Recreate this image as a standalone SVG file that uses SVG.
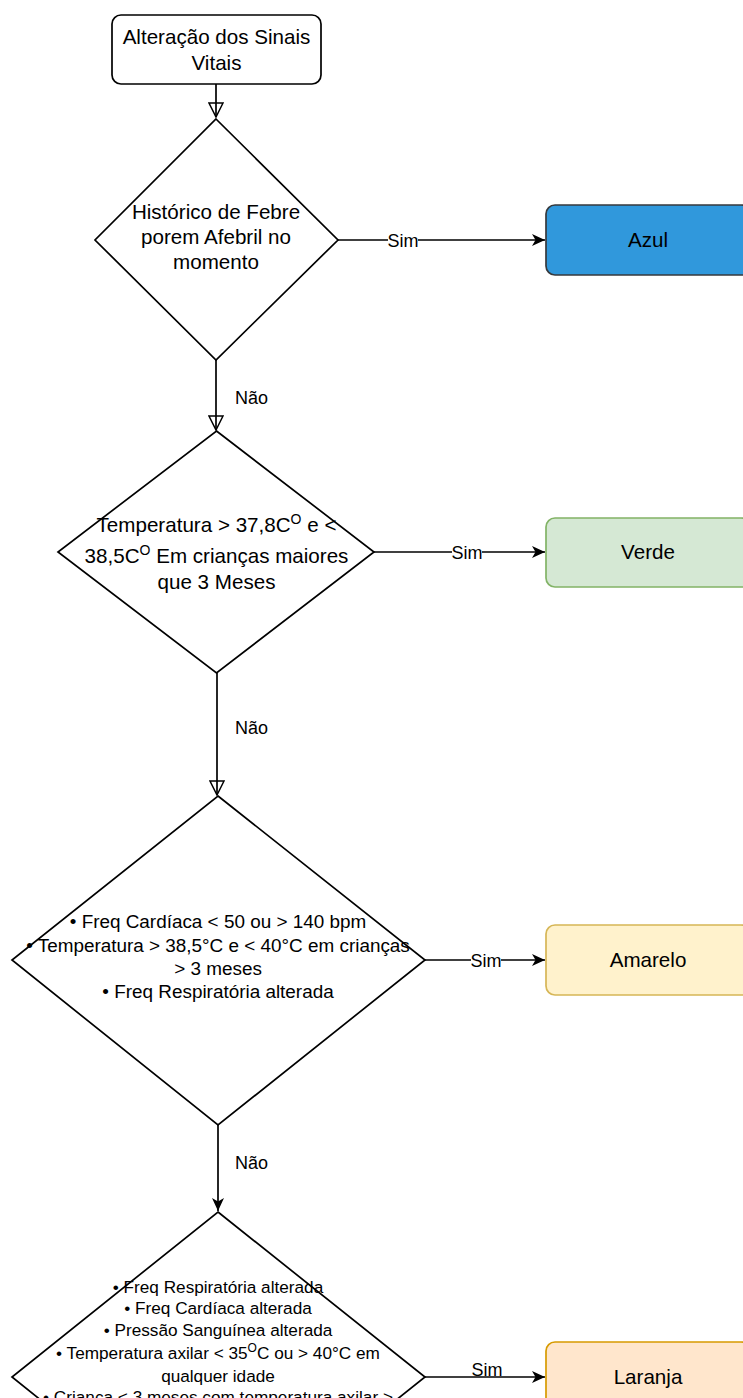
<svg xmlns="http://www.w3.org/2000/svg" width="743" height="1398" viewBox="0 0 743 1398">
  <defs>
    <style>
      .shape { fill: #ffffff; stroke: #000000; stroke-width: 1.7; }
      .t { font-family: "Liberation Sans", Arial, Helvetica, sans-serif; fill: #000000; text-anchor: middle; }
      .big { font-size: 20.6px; }
      .mid { font-size: 18.9px; }
      .small { font-size: 17.2px; }
      .lbl { font-family: "Liberation Sans", Arial, Helvetica, sans-serif; font-size: 18px; fill: #000000; }
      .edge { fill: none; stroke: #000000; stroke-width: 1.7; }
    </style>
    <marker id="open" viewBox="0 0 16 16" refX="15" refY="8" markerWidth="16" markerHeight="16" markerUnits="userSpaceOnUse" orient="auto">
      <path d="M1,1 L15,8 L1,15 Z" fill="none" stroke="#000" stroke-width="1.5"/>
    </marker>
    <marker id="solid" viewBox="0 0 14 12" refX="13" refY="6" markerWidth="14" markerHeight="12" markerUnits="userSpaceOnUse" orient="auto">
      <path d="M0,0 L13,6 L0,12 L3.5,6 Z" fill="#000"/>
    </marker>
  </defs>

  <rect width="743" height="1398" fill="#ffffff"/>

  <!-- connectors -->
  <g id="connectors">
    <path class="edge" d="M216,84 L216,117" marker-end="url(#open)"/>
    <path class="edge" d="M338,240 L545,240" marker-end="url(#solid)"/>
    <path class="edge" d="M216,360 L216,430" marker-end="url(#open)"/>
    <path class="edge" d="M374,552 L545,552" marker-end="url(#solid)"/>
    <path class="edge" d="M217,673 L217,795" marker-end="url(#open)"/>
    <path class="edge" d="M425,960 L545,960" marker-end="url(#solid)"/>
    <path class="edge" d="M218,1125 L218,1211" marker-end="url(#solid)"/>
    <path class="edge" d="M425,1377 L545,1377" marker-end="url(#solid)"/>

    <rect x="388" y="229" width="30" height="21" fill="#ffffff"/>
    <text class="lbl" x="403" y="246.5" text-anchor="middle">Sim</text>
    <text class="lbl" x="235" y="403.5">Não</text>

    <rect x="452" y="541" width="30" height="21" fill="#ffffff"/>
    <text class="lbl" x="467" y="558.5" text-anchor="middle">Sim</text>
    <text class="lbl" x="235" y="733.5">Não</text>

    <rect x="471" y="949" width="30" height="21" fill="#ffffff"/>
    <text class="lbl" x="486" y="966.5" text-anchor="middle">Sim</text>
    <text class="lbl" x="235" y="1168.5">Não</text>

    <rect x="472" y="1362" width="30" height="14" fill="#ffffff"/>
    <text class="lbl" x="487" y="1376" text-anchor="middle">Sim</text>
  </g>

  <!-- start -->
  <g id="start">
    <rect class="shape" x="112" y="15" width="209" height="69" rx="9"/>
    <text class="t big" x="216.5" y="44">Alteração dos Sinais</text>
    <text class="t big" x="216.5" y="69.5">Vitais</text>
  </g>

  <!-- decision: fever history -->
  <g id="d1">
    <polygon class="shape" points="216,119 338,240 216,360 95,240"/>
    <text class="t big" x="216" y="219">Histórico de Febre</text>
    <text class="t big" x="216" y="244">porem Afebril no</text>
    <text class="t big" x="216" y="269">momento</text>
  </g>

  <!-- decision: temperature band -->
  <g id="d2">
    <polygon class="shape" points="216.5,431 374,552 216.5,673 58,552"/>
    <text class="t big" x="216.5" y="532">Temperatura &gt; 37,8C<tspan font-size="14" baseline-shift="super">O</tspan> e &lt;</text>
    <text class="t big" x="216.5" y="563">38,5C<tspan font-size="14" baseline-shift="super">O</tspan> Em crianças maiores</text>
    <text class="t big" x="216.5" y="589">que 3 Meses</text>
  </g>

  <!-- decision: yellow criteria -->
  <g id="d3">
    <polygon class="shape" points="218,796 425,960 218,1125 12,960"/>
    <text class="t mid" x="218" y="928">• Freq Cardíaca &lt; 50 ou &gt; 140 bpm</text>
    <text class="t mid" x="218" y="952">• Temperatura &gt; 38,5°C e &lt; 40°C em crianças</text>
    <text class="t mid" x="218" y="975">&gt; 3 meses</text>
    <text class="t mid" x="218" y="998">• Freq Respiratória alterada</text>
  </g>

  <!-- decision: orange criteria -->
  <g id="d4">
    <polygon class="shape" points="218,1212 425,1377 218,1542 12,1377"/>
    <text class="t small" x="218" y="1293">• Freq Respiratória alterada</text>
    <text class="t small" x="218" y="1314">• Freq Cardíaca alterada</text>
    <text class="t small" x="218" y="1336">• Pressão Sanguínea alterada</text>
    <text class="t small" x="218" y="1359">• Temperatura axilar &lt; 35<tspan font-size="12" baseline-shift="super">O</tspan>C ou &gt; 40°C em</text>
    <text class="t small" x="218" y="1382">qualquer idade</text>
    <text class="t small" x="218" y="1403">• Criança &lt; 3 meses com temperatura axilar &gt;</text>
  </g>

  <!-- outcomes -->
  <g id="azul">
    <rect x="546" y="205" width="204" height="70" rx="9" fill="#3098dc" stroke="#36393d" stroke-width="1.7"/>
    <text class="t big" x="648" y="247">Azul</text>
  </g>
  <g id="verde">
    <rect x="546" y="518" width="204" height="69" rx="9" fill="#d5e8d4" stroke="#82b366" stroke-width="1.7"/>
    <text class="t big" x="648" y="559">Verde</text>
  </g>
  <g id="amarelo">
    <rect x="546" y="925" width="204" height="70" rx="9" fill="#fff2cc" stroke="#d6b656" stroke-width="1.7"/>
    <text class="t big" x="648" y="967">Amarelo</text>
  </g>
  <g id="laranja">
    <rect x="546" y="1342" width="204" height="70" rx="9" fill="#ffe6cc" stroke="#d79b00" stroke-width="1.7"/>
    <text class="t big" x="648" y="1384">Laranja</text>
  </g>
</svg>
